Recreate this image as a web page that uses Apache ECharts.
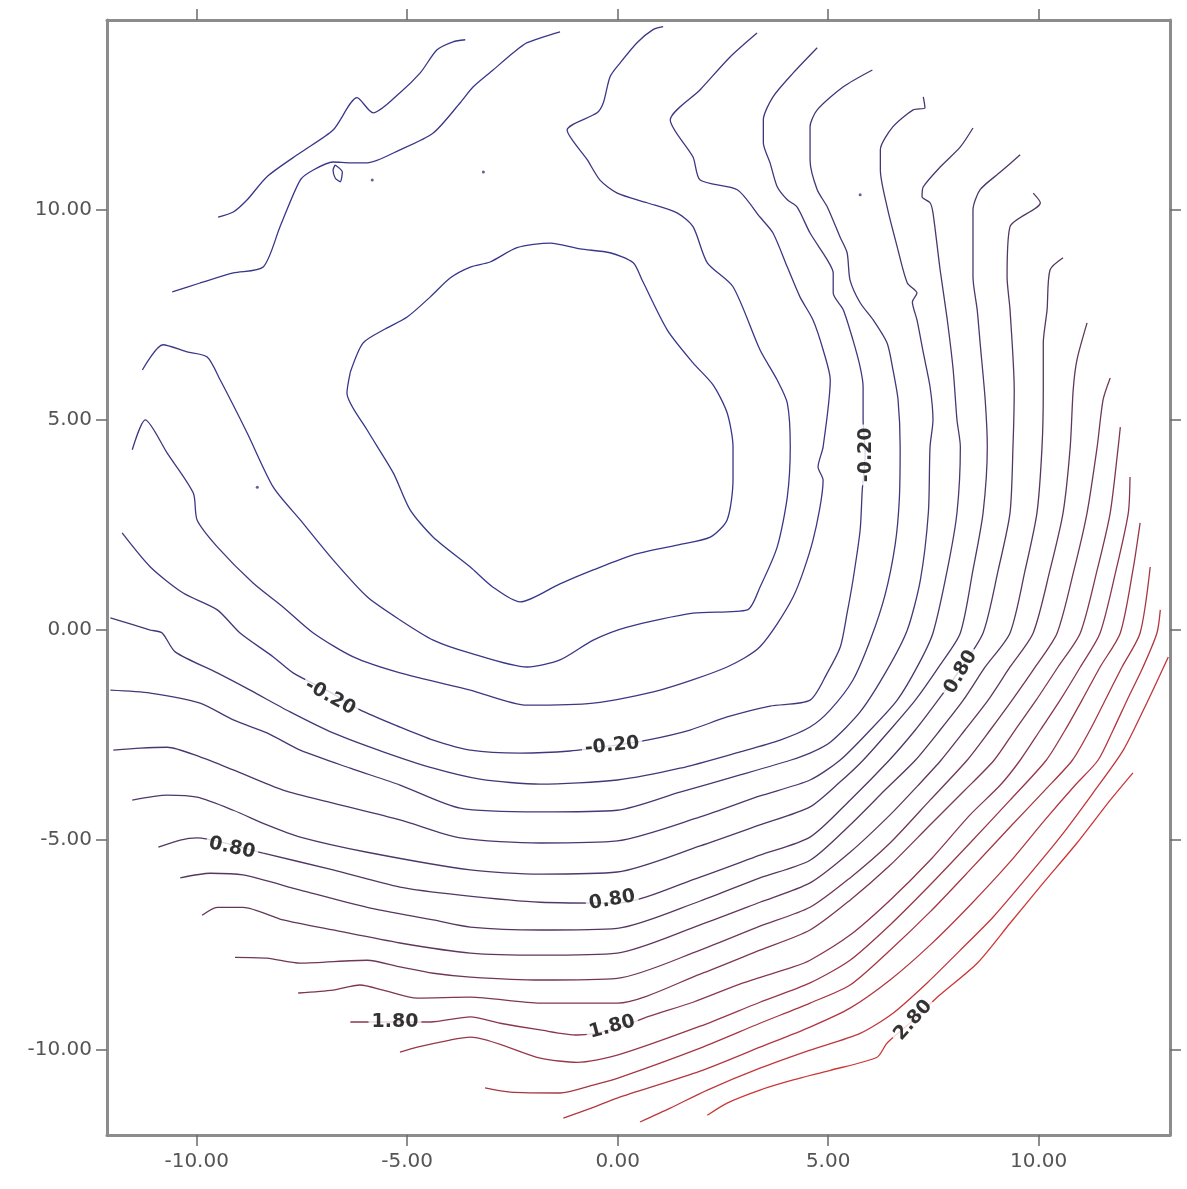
<!DOCTYPE html>
<html>
<head>
<meta charset="utf-8">
<title>Contour</title>
<script src="https://cdn.jsdelivr.net/npm/echarts@6/dist/echarts.min.js"></script>
<style>
  html, body { margin: 0; padding: 0; background: #fff; }
  #chart { width: 1187px; height: 1189px; }
</style>
</head>
<body>
<div id="chart"></div>
<script>
// axis ranges and ticks
var xRange = [-12.13, 13.12];
var yRange = [-12.02, 14.52];
var tickValues = [-10, -5, 0, 5, 10];

// contour lines, [x, y] in data units
var lvlM08 = [[-6.35,6.14],[-6.05,6.83],[-5.57,7.14],[-5.00,7.45],[-4.45,7.93],[-3.98,8.38],[-3.50,8.64],[-3.03,8.76],[-2.39,9.10],[-1.60,9.21],[-0.89,9.07],[-0.18,8.98],[0.37,8.74],[0.58,8.33],[1.18,7.14],[1.79,6.36],[2.27,5.83],[2.60,5.17],[2.74,4.36],[2.74,3.57],[2.60,2.62],[2.20,2.21],[1.41,2.02],[0.37,1.79],[-0.58,1.43],[-1.37,1.10],[-2.32,0.67],[-2.96,1.02],[-3.50,1.50],[-4.38,2.21],[-4.93,2.86],[-5.33,3.74],[-5.95,4.76],[-6.43,5.64],[-6.35,6.14]];
var lvlM06 = [[-11.29,6.19],[-10.80,6.79],[-10.23,6.62],[-9.75,6.50],[-9.44,5.95],[-8.80,4.69],[-8.18,3.40],[-7.54,2.62],[-6.76,1.67],[-5.95,0.79],[-5.17,0.24],[-4.38,-0.24],[-3.50,-0.55],[-2.15,-0.88],[-1.37,-0.71],[-0.58,-0.24],[0.23,0.07],[1.79,0.40],[3.08,0.48],[3.38,1.02],[3.79,1.98],[4.03,3.17],[4.10,4.36],[4.03,5.40],[3.79,5.95],[3.38,6.67],[2.74,8.17],[2.13,8.74],[1.79,9.60],[1.41,9.93],[0.70,10.17],[-0.01,10.40],[-0.42,10.71],[-0.72,11.19],[-1.20,11.90],[-0.49,12.31],[-0.34,12.55],[-0.18,13.17],[0.06,13.50],[0.46,13.98],[0.84,14.29],[1.08,14.36]];
var lvlM04 = [[-11.53,4.29],[-11.22,5.00],[-10.70,4.21],[-10.08,3.26],[-9.99,2.62],[-9.51,1.98],[-8.66,1.12],[-7.95,0.55],[-7.23,-0.07],[-6.28,-0.64],[-5.17,-1.02],[-3.50,-1.43],[-2.15,-1.79],[-0.58,-1.74],[1.01,-1.43],[2.60,-0.88],[3.38,-0.40],[4.17,0.79],[4.64,2.14],[4.88,3.57],[4.76,3.88],[4.88,4.36],[5.05,5.95],[4.88,6.67],[4.64,7.38],[4.33,7.93],[4.03,8.64],[3.69,9.45],[3.38,9.83],[2.84,10.48],[1.96,10.71],[1.79,11.26],[1.25,12.14],[1.96,12.86],[2.67,13.64],[3.31,14.21]];
var lvlM02 = [[-11.77,2.31],[-11.10,1.50],[-10.32,0.88],[-9.51,0.48],[-8.97,-0.07],[-8.18,-0.64],[-7.71,-1.02],[-6.83,-1.48],[-6.12,-1.90],[-5.17,-2.31],[-4.38,-2.62],[-3.50,-2.86],[-2.32,-2.93],[-1.13,-2.88],[-0.18,-2.76],[0.70,-2.62],[1.72,-2.38],[2.60,-2.07],[3.62,-1.81],[4.57,-1.67],[4.98,-1.02],[5.29,-0.40],[5.45,0.40],[5.59,1.19],[5.76,2.38],[5.81,3.33],[5.88,4.17],[5.83,5.00],[5.83,5.79],[5.76,6.26],[5.59,6.90],[5.36,7.62],[5.12,8.02],[5.12,8.50],[4.98,8.81],[4.57,9.45],[4.26,10.07],[4.03,10.24],[3.79,10.55],[3.62,11.12],[3.46,11.60],[3.46,12.14],[3.69,12.69],[4.17,13.26],[4.74,13.86]];
var lvl000 = [[-12.05,0.29],[-11.10,0],[-10.82,-0.07],[-10.51,-0.52],[-9.51,-1.02],[-8.73,-1.43],[-7.78,-1.95],[-6.76,-2.45],[-5.57,-2.90],[-4.38,-3.29],[-3.27,-3.55],[-1.84,-3.67],[-0.01,-3.57],[1.48,-3.29],[2.91,-2.90],[3.86,-2.62],[4.57,-2.31],[5.05,-1.90],[5.59,-1.19],[6.00,-0.24],[6.35,0.83],[6.59,2.02],[6.69,3.10],[6.71,4.36],[6.66,5.48],[6.54,6.19],[6.40,6.83],[6.07,7.38],[5.76,7.79],[5.52,8.33],[5.45,8.98],[5.28,9.36],[4.98,10.07],[4.74,10.48],[4.57,11.19],[4.57,11.98],[4.74,12.38],[5.36,12.93],[6.05,13.33]];
var lvl020 = [[-12.05,-1.43],[-11.10,-1.50],[-9.92,-1.74],[-9.13,-2.14],[-8.33,-2.45],[-7.54,-2.86],[-6.35,-3.29],[-5.17,-3.69],[-3.74,-4.24],[-1.84,-4.33],[-0.01,-4.29],[1.48,-3.86],[2.91,-3.45],[4.10,-3.10],[4.57,-2.93],[5.05,-2.67],[5.76,-1.95],[6.40,-0.95],[6.88,0],[7.19,1.19],[7.38,2.79],[7.42,4.36],[7.49,5.00],[7.42,5.79],[7.26,6.60],[7.11,7.38],[7.00,7.81],[7.11,8.02],[6.88,8.26],[6.64,9.12],[6.40,10.07],[6.24,10.95],[6.24,11.43],[6.54,11.98],[7.02,12.38],[7.30,12.43],[7.26,12.69]];
var lvl040 = [[-11.98,-2.86],[-11.34,-2.81],[-10.70,-2.79],[-9.92,-3.02],[-9.13,-3.33],[-7.95,-3.81],[-6.76,-4.12],[-5.17,-4.52],[-3.74,-4.95],[-1.84,-5.07],[-0.01,-5.02],[1.96,-4.45],[3.38,-3.95],[4.57,-3.57],[5.28,-3.10],[6.00,-2.38],[6.64,-1.67],[7.14,-0.83],[7.49,-0.07],[7.83,1.43],[8.06,2.79],[8.14,4.36],[8.06,5.00],[7.97,6.19],[7.83,7.38],[7.66,8.57],[7.49,9.93],[7.42,10.17],[7.23,10.31],[7.26,10.55],[7.66,11.02],[8.14,11.50],[8.44,11.95]];
var lvl060 = [[-11.53,-4.05],[-10.70,-3.93],[-9.99,-3.98],[-9.13,-4.29],[-8.33,-4.64],[-7.54,-4.93],[-5.95,-5.29],[-3.50,-5.71],[-1.84,-5.81],[-0.01,-5.76],[1.96,-5.14],[3.38,-4.64],[4.57,-4.21],[5.28,-3.62],[5.83,-3.10],[6.47,-2.38],[7.07,-1.67],[7.66,-0.83],[8.14,-0.07],[8.44,1.43],[8.68,2.79],[8.78,4.36],[8.73,5.48],[8.61,6.83],[8.54,7.62],[8.44,8.40],[8.44,10.00],[8.61,10.48],[9.09,10.90],[9.56,11.31]];
var lvl080 = [[-10.91,-5.17],[-10.39,-5.00],[-9.99,-4.95],[-9.20,-5.10],[-8.42,-5.31],[-6.76,-5.71],[-5.17,-6.12],[-3.74,-6.31],[-1.84,-6.48],[-0.01,-6.50],[1.96,-5.88],[3.38,-5.36],[4.57,-4.93],[5.52,-4.05],[6.45,-3.10],[7.07,-2.38],[7.61,-1.67],[8.09,-1.00],[8.68,-0.07],[9.04,1.43],[9.32,2.79],[9.39,4.36],[9.42,5.71],[9.32,7.62],[9.25,8.40],[9.32,9.60],[10.04,10.17],[9.87,10.40]];
var lvl100 = [[-10.39,-5.90],[-9.68,-5.79],[-8.90,-5.83],[-7.54,-6.19],[-5.95,-6.60],[-4.38,-6.90],[-3.50,-7.07],[-1.84,-7.14],[-0.01,-7.10],[1.96,-6.45],[3.38,-5.90],[4.57,-5.48],[5.52,-4.64],[6.35,-3.81],[7.07,-3.10],[7.66,-2.38],[8.21,-1.67],[8.73,-0.88],[9.32,-0.07],[9.68,1.43],[9.96,2.79],[10.08,4.36],[10.11,5.71],[10.11,6.83],[10.20,7.62],[10.27,8.57],[10.58,8.86]];
var lvl120 = [[-9.87,-6.79],[-9.51,-6.60],[-8.90,-6.60],[-7.95,-6.90],[-6.76,-7.14],[-5.17,-7.45],[-3.50,-7.69],[-1.84,-7.74],[-0.01,-7.69],[1.96,-7.02],[3.38,-6.48],[4.57,-6.02],[5.52,-5.29],[6.47,-4.40],[7.19,-3.64],[7.68,-3.10],[8.25,-2.38],[8.80,-1.67],[9.32,-0.88],[9.87,-0.07],[10.27,1.43],[10.58,2.79],[10.75,4.36],[10.82,5.71],[10.91,6.43],[11.15,7.31]];
var lvl140 = [[-9.09,-7.79],[-8.33,-7.81],[-7.54,-7.93],[-5.95,-7.86],[-5.17,-8.02],[-4.38,-8.17],[-3.50,-8.26],[-1.84,-8.33],[-0.01,-8.29],[1.96,-7.62],[3.38,-7.05],[4.57,-6.60],[5.52,-5.90],[6.47,-5.07],[7.42,-4.05],[8.30,-3.10],[8.85,-2.38],[9.37,-1.67],[9.92,-0.88],[10.44,-0.07],[10.84,1.43],[11.15,2.79],[11.39,4.36],[11.53,5.48],[11.70,6.00]];
var lvl160 = [[-7.59,-8.64],[-6.76,-8.57],[-6.12,-8.45],[-5.57,-8.57],[-4.76,-8.76],[-3.50,-8.74],[-1.84,-8.88],[-0.01,-8.88],[1.96,-8.19],[3.38,-7.62],[4.57,-7.14],[5.52,-6.43],[6.47,-5.60],[7.42,-4.64],[8.25,-3.81],[8.94,-3.10],[9.44,-2.38],[9.94,-1.67],[10.46,-0.88],[10.99,-0.07],[11.39,1.43],[11.70,2.79],[11.89,4.36],[11.94,4.83]];
var lvl180 = [[-6.35,-9.33],[-4.45,-9.33],[-3.50,-9.21],[-2.79,-9.36],[-1.84,-9.52],[-0.96,-9.64],[-0.01,-9.48],[0.70,-9.21],[1.79,-8.86],[2.98,-8.40],[4.17,-8.02],[4.57,-7.86],[5.52,-7.26],[6.47,-6.43],[7.42,-5.48],[8.37,-4.40],[9.09,-3.69],[9.56,-3.10],[10.04,-2.38],[10.51,-1.67],[10.99,-0.88],[11.46,-0.07],[11.84,1.43],[12.13,2.79],[12.17,3.64]];
var lvl200 = [[-5.17,-10.05],[-4.76,-9.93],[-3.98,-9.76],[-3.50,-9.69],[-1.84,-10.19],[-0.96,-10.29],[-0.01,-10.12],[1.96,-9.43],[3.38,-8.86],[4.57,-8.40],[5.52,-7.86],[6.47,-7.02],[7.42,-6.07],[8.37,-5.07],[9.32,-4.05],[10.18,-3.10],[10.63,-2.38],[11.03,-1.67],[11.46,-0.88],[11.94,-0.07],[12.24,1.43],[12.41,2.55]];
var lvl220 = [[-3.15,-10.90],[-2.55,-11.00],[-1.37,-11.02],[-0.58,-10.83],[-0.01,-10.67],[1.96,-9.95],[3.38,-9.36],[4.57,-8.88],[5.52,-8.45],[6.47,-7.62],[7.42,-6.71],[8.37,-5.71],[9.32,-4.69],[10.15,-3.81],[10.80,-3.10],[11.22,-2.38],[11.58,-1.67],[11.98,-0.88],[12.41,-0.07],[12.65,1.50]];
var lvl240 = [[-1.29,-11.62],[-0.58,-11.36],[-0.01,-11.14],[1.96,-10.50],[3.38,-9.93],[4.57,-9.45],[5.52,-9.00],[6.47,-8.33],[7.42,-7.50],[8.37,-6.55],[9.32,-5.52],[10.15,-4.52],[10.87,-3.69],[11.41,-3.10],[11.77,-2.38],[12.10,-1.67],[12.48,-0.88],[12.81,-0.07],[12.89,0.48]];
var lvl260 = [[0.53,-11.71],[1.25,-11.38],[2.13,-10.95],[3.38,-10.43],[4.57,-10.00],[5.76,-9.60],[6.54,-9.12],[7.35,-8.40],[8.14,-7.62],[8.92,-6.83],[9.73,-5.88],[10.51,-4.93],[11.29,-3.88],[12.01,-2.86],[12.60,-1.67],[13.08,-0.64]];
var lvl280 = [[2.13,-11.55],[2.60,-11.26],[3.38,-10.95],[4.17,-10.71],[5.05,-10.48],[6.16,-10.17],[6.40,-9.83],[7.02,-9.29],[7.59,-8.74],[8.54,-7.93],[9.32,-6.98],[10.11,-6.02],[10.91,-5.07],[11.70,-4.05],[12.24,-3.40]];

// two lines in the upper left corner
var upperA = [[-9.49,9.83],[-9.13,9.95],[-8.80,10.24],[-8.33,10.79],[-7.54,11.36],[-6.76,11.90],[-6.19,12.67],[-5.81,12.31],[-5.17,12.79],[-4.69,13.26],[-4.29,13.81],[-3.91,14.00],[-3.62,14.05]];
var upperB = [[-10.58,8.05],[-9.92,8.26],[-9.13,8.50],[-8.42,8.64],[-8.02,9.60],[-7.54,10.71],[-7.23,10.95],[-6.76,11.14],[-6.35,11.12],[-5.95,11.12],[-5.17,11.43],[-4.38,11.83],[-3.74,12.55],[-3.43,12.93],[-2.96,13.33],[-2.48,13.74],[-2.15,13.98],[-1.37,14.24]];
var smallLoop = [[-6.71,11.07],[-6.54,10.90],[-6.59,10.67],[-6.71,10.76],[-6.76,10.95],[-6.71,11.07]];
var spots = [[-5.83,10.71],[-3.19,10.90],[5.76,10.36],[-8.56,3.40]];

// level of each line
var levelValues = [-0.8, -0.6, -0.4, -0.2, 0.0, 0.2, 0.4, 0.6, 0.8, 1.0, 1.2, 1.4, 1.6, 1.8, 2.0, 2.2, 2.4, 2.6, 2.8];
var levelLines = [lvlM08, lvlM06, lvlM04, lvlM02, lvl000, lvl020, lvl040, lvl060, lvl080, lvl100, lvl120, lvl140, lvl160, lvl180, lvl200, lvl220, lvl240, lvl260, lvl280];

// contour labels: [x, y, text, angle]
var contourLabels = [
  [-6.83, -1.60, '-0.20', -29],
  [-0.13, -2.76, '-0.20', 6],
  [5.90, 4.17, '-0.20', 90],
  [-9.16, -5.19, '0.80', -12],
  [-0.13, -6.43, '0.80', 10],
  [8.15, -1.00, '0.80', 60],
  [-5.29, -9.33, '1.80', 0],
  [-0.13, -9.45, '1.80', 15],
  [7.02, -9.29, '2.80', 48]
];

function levelColor(v) {
  // blue -> dark purple -> red
  var t = (v + 0.8) / 3.6;
  var a, b, s;
  if (t < 0.5) { a = [55, 55, 140]; b = [85, 55, 95]; s = t / 0.5; }
  else { a = [85, 55, 95]; b = [205, 55, 55]; s = (t - 0.5) / 0.5; }
  var c = a.map(function (x, i) { return Math.round(x + (b[i] - x) * s); });
  return 'rgb(' + c.join(',') + ')';
}

var series = [];
for (var i = 0; i < levelLines.length; i++) {
  series.push({
    type: 'line',
    name: levelValues[i].toFixed(2),
    data: levelLines[i],
    showSymbol: false,
    smooth: 0.25,
    lineStyle: { color: levelColor(levelValues[i]), width: 1.3 },
    silent: true
  });
}
[upperA, upperB, smallLoop].forEach(function (d) {
  series.push({
    type: 'line',
    data: d,
    showSymbol: false,
    smooth: 0.25,
    lineStyle: { color: levelColor(-0.7), width: 1.3 },
    silent: true
  });
});
series.push({
  type: 'scatter',
  data: spots,
  symbolSize: 3,
  itemStyle: { color: levelColor(-0.7) },
  silent: true
});
series.push({
  type: 'scatter',
  z: 10,
  symbolSize: 1,
  itemStyle: { color: 'rgba(0,0,0,0)' },
  data: contourLabels.map(function (l) {
    return { value: [l[0], l[1]], name: l[2], label: { rotate: l[3] } };
  }),
  label: {
    show: true,
    position: 'inside',
    formatter: '{b}',
    fontFamily: 'DejaVu Sans',
    fontSize: 19,
    fontWeight: 'bold',
    color: '#000',
    backgroundColor: '#fff',
    padding: [0, 3]
  },
  silent: true
});

var frameLine = { show: true, onZero: false, lineStyle: { color: '#8c8c8c', width: 3 } };
var tickStyle = { show: true, inside: false, length: 11, lineStyle: { color: '#6a6a6a', width: 1.5 }, customValues: tickValues };
var fmt = function (v) { return v.toFixed(2); };
var tickFont = { color: '#555', fontSize: 20, fontFamily: 'DejaVu Sans' };

var chart = echarts.init(document.getElementById('chart'));
chart.setOption({
  animation: false,
  backgroundColor: '#fff',
  grid: { left: 107, right: 17, top: 20, bottom: 54 },
  xAxis: [
    {
      type: 'value', position: 'bottom', min: xRange[0], max: xRange[1],
      axisLine: frameLine, axisTick: tickStyle, splitLine: { show: false },
      axisLabel: Object.assign({ customValues: tickValues, formatter: fmt, margin: 17 }, tickFont)
    },
    {
      type: 'value', position: 'top', min: xRange[0], max: xRange[1],
      axisLine: frameLine, axisTick: tickStyle, splitLine: { show: false },
      axisLabel: { show: false, customValues: tickValues }
    }
  ],
  yAxis: [
    {
      type: 'value', position: 'left', min: yRange[0], max: yRange[1],
      axisLine: frameLine, axisTick: tickStyle, splitLine: { show: false },
      axisLabel: Object.assign({ customValues: tickValues, formatter: fmt, margin: 15 }, tickFont)
    },
    {
      type: 'value', position: 'right', min: yRange[0], max: yRange[1],
      axisLine: frameLine, axisTick: tickStyle, splitLine: { show: false },
      axisLabel: { show: false, customValues: tickValues }
    }
  ],
  series: series
});
</script>
</body>
</html>
